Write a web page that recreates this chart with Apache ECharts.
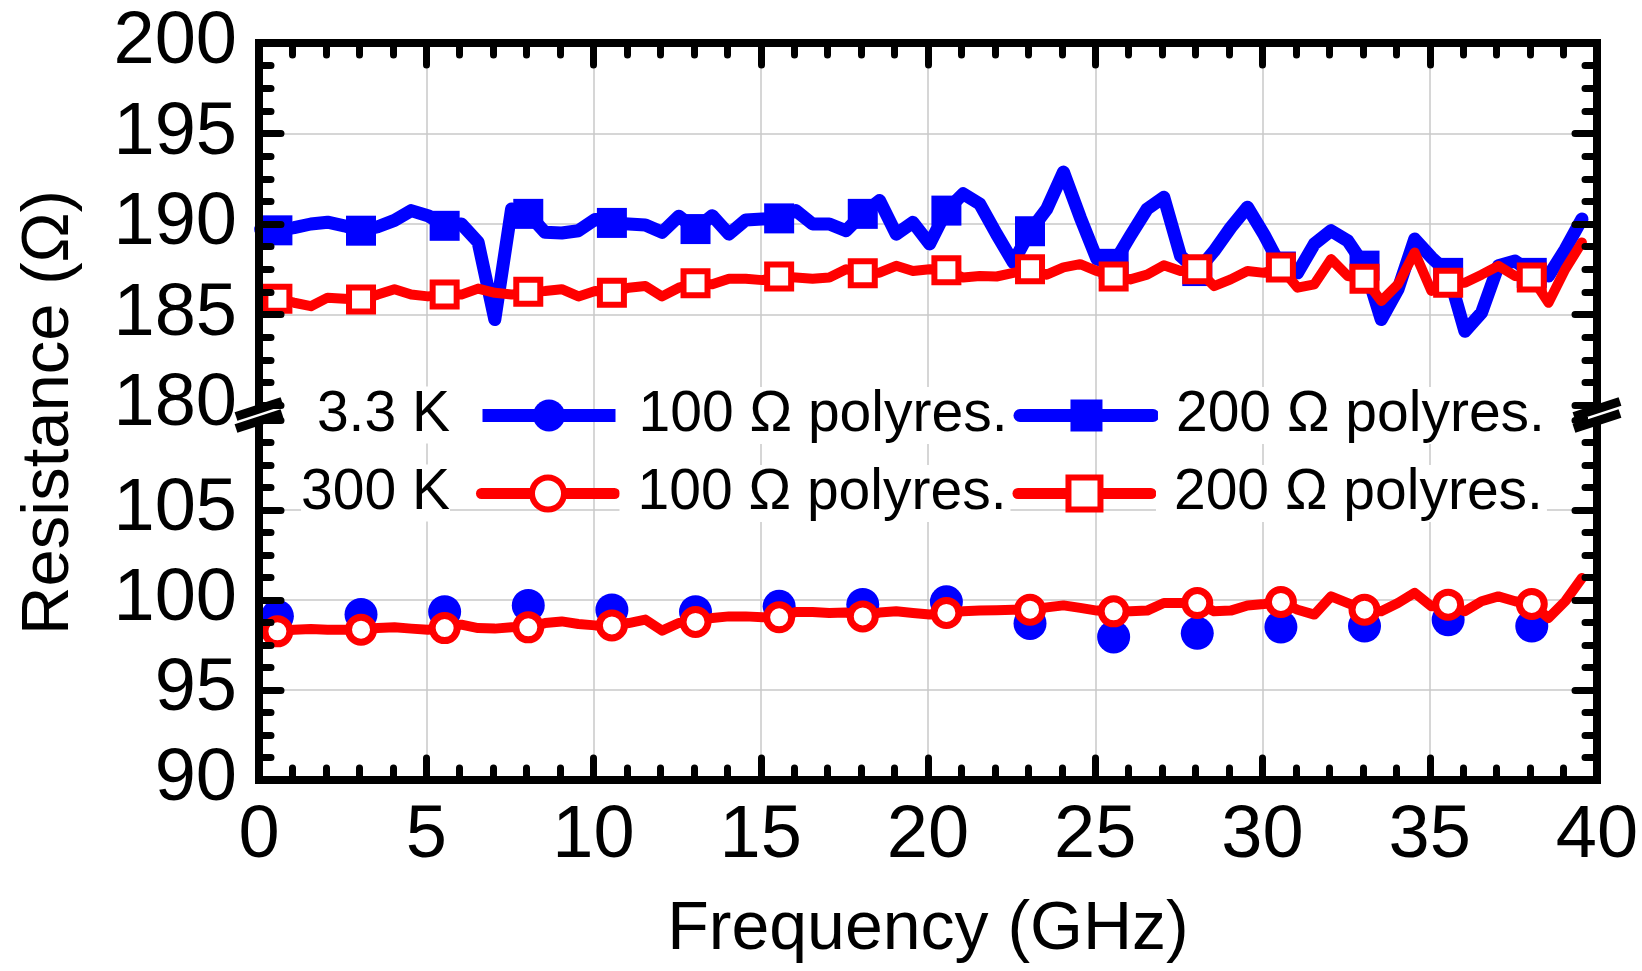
<!DOCTYPE html>
<html><head><meta charset="utf-8">
<script src="https://cdn.jsdelivr.net/npm/echarts@6/dist/echarts.min.js"></script>
<style>html,body{margin:0;padding:0;background:#fff}#c{width:1642px;height:971px}</style>
</head><body><div id="c"></div>
<script>
// ---------------- data ----------------
const freqGHz = [0.05,0.55,1.05,1.55,2.05,2.55,3.05,3.55,4.05,4.55,5.05,5.55,6.05,6.55,7.05,7.55,8.05,8.55,9.05,9.55,
  10.05,10.55,11.05,11.55,12.05,12.55,13.05,13.55,14.05,14.55,15.05,15.55,16.05,16.55,17.05,17.55,18.05,18.55,19.05,19.55,
  20.05,20.55,21.05,21.55,22.05,22.55,23.05,23.55,24.05,24.55,25.05,25.55,26.05,26.55,27.05,27.55,28.05,28.55,29.05,29.55,
  30.05,30.55,31.05,31.55,32.05,32.55,33.05,33.55,34.05,34.55,35.05,35.55,36.05,36.55,37.05,37.55,38.05,38.55,39.05,39.55];

// 200 Ohm polyres., 3.3 K (blue, filled squares)
const r200_3K = [189.7,189.65,189.8,190.0,190.1,189.9,189.63,189.85,190.2,190.74,
  190.46,189.9,190.0,189.0,184.72,190.83,190.56,189.54,189.5,189.63,
  190.25,190.06,190.0,189.94,189.54,190.43,189.72,190.46,189.44,190.22,
  190.28,190.31,190.74,190.0,190.0,189.63,190.56,191.3,189.44,190.09,
  188.9,190.74,191.67,191.1,189.44,187.87,189.6,190.83,192.87,190.37,
  188.06,187.8,189.35,190.83,191.48,188.24,187.4,188.5,189.8,190.93,
  189.4,187.65,187.31,188.9,189.63,189.07,187.7,184.72,186.39,189.17,
  188.15,187.3,184.07,185.1,187.69,187.96,187.3,187.13,188.6,190.28];

// 200 Ohm polyres., 300 K (red, open squares)
const r200_300K = [185.9,185.87,185.65,185.46,185.93,185.87,185.83,186.1,186.4,186.1,
  186.0,186.1,186.1,186.43,186.2,186.1,186.26,186.3,186.4,186.0,
  186.3,186.2,186.48,186.57,186.0,186.48,186.72,186.67,186.98,186.98,
  186.9,187.1,187.04,186.98,187.04,187.5,187.28,187.31,187.69,187.4,
  187.5,187.44,187.04,187.13,187.1,187.3,187.5,187.2,187.6,187.78,
  187.4,187.1,186.94,187.2,187.72,187.4,187.5,186.57,186.94,187.4,
  187.3,187.59,186.48,186.67,188.06,187.13,186.98,185.74,186.67,188.43,
  186.3,186.76,186.76,187.2,187.69,187.13,187.04,185.65,187.5,188.98];

// 100 Ohm polyres., 300 K (red, open circles)
const r100_300K = [98.11,98.26,98.35,98.39,98.35,98.35,98.35,98.44,98.48,98.41,
  98.35,98.44,98.63,98.44,98.41,98.48,98.48,98.72,98.81,98.67,
  98.59,98.59,98.72,98.91,98.3,98.72,98.78,99.0,99.09,99.09,
  99.04,99.04,99.33,99.33,99.28,99.3,99.09,99.3,99.37,99.28,
  99.19,99.28,99.37,99.41,99.43,99.46,99.46,99.59,99.7,99.56,
  99.41,99.37,99.37,99.41,99.83,99.83,99.83,99.37,99.41,99.7,
  99.78,99.89,99.46,99.19,100.2,99.83,99.46,99.37,99.83,100.4,
  99.65,99.74,99.37,99.93,100.2,99.93,99.78,99.0,99.93,101.22];

// 100 Ohm polyres., 3.3 K (blue, filled circles, markers only)
const freq100_3K = [0.55,3.05,5.55,8.05,10.55,13.05,15.55,18.05,20.55,23.05,25.55,28.05,30.55,33.05,35.55,38.05];
const r100_3K = [99.1,99.2,99.35,99.7,99.45,99.35,99.65,99.75,99.9,98.7,97.95,98.15,98.5,98.55,98.9,98.55];

const xTicks = {min:0, max:40, step:5};
const yTop = {min:180, max:200, step:5};
const yBottom = {min:90, max:110, step:5};
const tempLabels = ['3.3 K', '300 K'];

// ---------------- layout / style ----------------
const FONT = '"Liberation Sans", Arial, Helvetica, sans-serif';
const L = 259, RGT = 1642 - 1597;
const TOP0 = 43, H0 = 362, TOP1 = 405, H1 = 15, TOP2 = 420, H2 = 360;
const BLUE = '#0000ff', RED = '#ff0000';
const AXL = {color:'#000', width:8, cap:'square'};
const TICK = {show:true, inside:true, length:22, lineStyle:{color:'#000', width:7, cap:'round'}};
const minor = n => ({show:true, splitNumber:n, length:12, lineStyle:{color:'#000', width:7, cap:'round'}});
const GRIDLINE = {show:true, lineStyle:{color:'#c8c8c8', width:1.5}};
const OFF = {show:false};

function frameX(g, pos, labels, extra) {
  return Object.assign({type:'value', gridIndex:g, position:pos, min:xTicks.min, max:xTicks.max, interval:xTicks.step, z:10,
    axisLine:{show:true, onZero:false, lineStyle:AXL}, axisTick:TICK, minorTick:minor(5),
    axisLabel: labels ? {show:true, fontSize:74, fontFamily:FONT, color:'#000', margin:20} : OFF,
    splitLine:OFF}, extra || {});
}
function splitX(g) {
  return {type:'value', gridIndex:g, position:'bottom', min:xTicks.min, max:xTicks.max, interval:xTicks.step, z:0,
    axisLine:OFF, axisTick:OFF, minorTick:OFF, axisLabel:OFF, splitLine:GRIDLINE};
}
function frameY(g, pos, rng, labels, extra) {
  return Object.assign({type:'value', gridIndex:g, position:pos, min:rng.min, max:rng.max, interval:rng.step, z:10,
    axisLine:{show:true, onZero:false, lineStyle:AXL}, axisTick:TICK, minorTick:minor(4),
    axisLabel: labels ? Object.assign({show:true, fontSize:74, fontFamily:FONT, color:'#000', margin:22}, labels) : OFF,
    splitLine:OFF}, extra || {});
}
function splitY(g, rng, extra) {
  return {type:'value', gridIndex:g, position:'left', min:rng.min, max:rng.max, interval:rng.step, z:0,
    axisLine:OFF, axisTick:OFF, minorTick:OFF, axisLabel:OFF,
    splitLine:Object.assign({}, GRIDLINE, extra || {})};
}

const xAxis = [
  frameX(0, 'top', false),                 // 0
  splitX(0),                               // 1
  splitX(1),                               // 2
  frameX(2, 'bottom', true, {              // 3
    name:'Frequency (GHz)', nameLocation:'middle', nameGap:116,
    nameTextStyle:{fontSize:68, fontFamily:FONT, color:'#000'}}),
  splitX(2)                                // 4
];
const yAxis = [
  frameY(0, 'left', yTop, {}),                                   // 0
  frameY(0, 'right', yTop, null),                                // 1
  splitY(0, yTop, {showMinLine:false, showMaxLine:false}),       // 2
  {type:'value', gridIndex:1, position:'left', min:0, max:1, z:10,   // 3
    axisLine:{show:true, onZero:false, lineStyle:AXL}, axisTick:OFF, minorTick:OFF, axisLabel:OFF, splitLine:OFF,
    name:'Resistance (Ω)', nameLocation:'middle', nameGap:176,
    nameTextStyle:{fontSize:67, fontFamily:FONT, color:'#000'}},
  {type:'value', gridIndex:1, position:'right', min:0, max:1, z:10,  // 4
    axisLine:{show:true, onZero:false, lineStyle:AXL}, axisTick:OFF, minorTick:OFF, axisLabel:OFF, splitLine:OFF},
  frameY(2, 'left', yBottom, {showMaxLabel:false}),              // 5
  frameY(2, 'right', yBottom, null),                             // 6
  splitY(2, yBottom, {showMinLine:false, showMaxLine:false})     // 7
];

const markEvery5 = (size) => (v, p) => (p.dataIndex % 5 === 1 ? size : 0);
const pairs = (xs, ys) => xs.map((x, i) => [x, ys[i]]);

const series = [
  {name:'3.3 K|200', type:'line', xAxisIndex:0, yAxisIndex:0, z:2,
    data:pairs(freqGHz, r200_3K), symbol:'rect', symbolSize:markEvery5(30), showAllSymbol:true,
    lineStyle:{color:BLUE, width:13, join:'round', cap:'round'}, itemStyle:{color:BLUE}},
  {name:'300 K|200', type:'line', xAxisIndex:0, yAxisIndex:0, z:3,
    data:pairs(freqGHz, r200_300K), symbol:'rect', symbolSize:markEvery5(24), showAllSymbol:true,
    lineStyle:{color:RED, width:10, join:'round', cap:'round'}, itemStyle:{color:'#fff', borderColor:RED, borderWidth:6}},
  {name:'3.3 K|100', type:'line', xAxisIndex:3, yAxisIndex:5, z:2,
    data:pairs(freq100_3K, r100_3K), symbol:'circle', symbolSize:33, showAllSymbol:true,
    lineStyle:{color:BLUE, width:0, opacity:0}, itemStyle:{color:BLUE}},
  {name:'300 K|100', type:'line', xAxisIndex:3, yAxisIndex:5, z:3,
    data:pairs(freqGHz, r100_300K), symbol:'circle', symbolSize:markEvery5(25), showAllSymbol:true,
    lineStyle:{color:RED, width:10, join:'round', cap:'round'}, itemStyle:{color:'#fff', borderColor:RED, borderWidth:7}}
];
series.forEach(s => { s.emphasis = {disabled:true}; s.silent = true; s.clip = false; });

const legendText = {fontSize:57, fontFamily:FONT, color:'#000', backgroundColor:'#fff', padding:[0,4,0,18]};
function legendRow(top, items) {
  return {top:top, left:476, padding:0, orient:'horizontal', itemWidth:133, itemHeight:40, itemGap:2,
    selectedMode:false, textStyle:legendText, data:items,
    formatter: n => n.split('|')[1] + ' Ω polyres.'};
}
const legend = [
  legendRow(387, [
    {name:'3.3 K|100', itemStyle:{color:BLUE, borderWidth:0}, lineStyle:{color:BLUE, width:13, opacity:1}},
    {name:'3.3 K|200', itemStyle:{color:BLUE, borderWidth:0}, lineStyle:{color:BLUE, width:13, opacity:1}}
  ]),
  legendRow(465, [
    {name:'300 K|100', itemStyle:{color:'#fff', borderColor:RED, borderWidth:6}, lineStyle:{color:RED, width:11, opacity:1}},
    {name:'300 K|200', itemStyle:{color:'#fff', borderColor:RED, borderWidth:6}, lineStyle:{color:RED, width:11, opacity:1}}
  ])
];

// axis break marks (decoration) at the gap between the two panels
function breakMark(cx, cy) {
  const s = -0.33, w = 9, d = 6;
  const yu = x => cy - d + s * (x - cx), yl = x => cy + d + s * (x - cx);
  const x0 = cx - 23, x1 = cx + 23;
  return [
    {type:'polygon', z:100, shape:{points:[[cx-9, yu(cx-9)], [cx+9, yu(cx+9)], [cx+9, yl(cx+9)], [cx-9, yl(cx-9)]]}, style:{fill:'#fff'}},
    {type:'line', z:101, shape:{x1:x0, y1:yu(x0), x2:x1, y2:yu(x1)}, style:{stroke:'#000', lineWidth:w}},
    {type:'line', z:101, shape:{x1:x0, y1:yl(x0), x2:x1, y2:yl(x1)}, style:{stroke:'#000', lineWidth:w}}
  ];
}
const BREAK_Y = 415;
const graphic = [].concat(
  breakMark(L, BREAK_Y), breakMark(1642 - RGT, BREAK_Y),
  [
    {type:'text', z:50, style:{text:tempLabels[0], x:450, y:415, align:'right', verticalAlign:'middle',
      font:'57px ' + FONT, fill:'#000', backgroundColor:'#fff'}},
    {type:'text', z:50, style:{text:tempLabels[1], x:450, y:493, align:'right', verticalAlign:'middle',
      font:'57px ' + FONT, fill:'#000', backgroundColor:'#fff'}}
  ]
);

const option = {
  animation:false,
  backgroundColor:'#fff',
  grid:[
    {left:L, right:RGT, top:TOP0, height:H0, containLabel:false},
    {left:L, right:RGT, top:TOP1, height:H1, containLabel:false},
    {left:L, right:RGT, top:TOP2, height:H2, containLabel:false}
  ],
  xAxis:xAxis, yAxis:yAxis, series:series, legend:legend, graphic:graphic
};
const chart = echarts.init(document.getElementById('c'));
chart.setOption(option);
</script>
</body></html>
